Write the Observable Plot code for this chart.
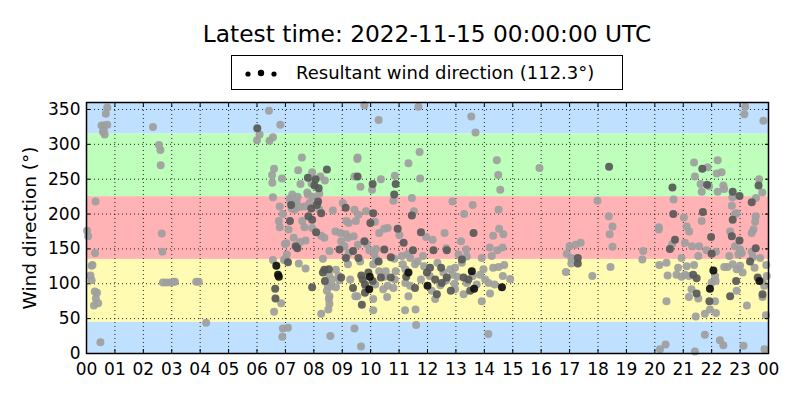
<!DOCTYPE html>
<html><head><meta charset="utf-8">
<script src="https://cdn.jsdelivr.net/npm/d3@7"></script>
<script src="https://cdn.jsdelivr.net/npm/@observablehq/plot@0.6"></script>
<style>
body{margin:0;background:#fff;font-family:"DejaVu Sans",sans-serif;}
#wrap{position:relative;width:800px;height:400px;overflow:hidden;}
#title{position:absolute;left:86px;width:682px;top:18px;text-align:center;font-size:23.3px;line-height:32px;color:#000;}
#legend{position:absolute;left:231px;top:55px;width:392px;height:35px;border:1px solid #000;box-sizing:border-box;display:flex;align-items:center;font-size:18px;color:#000;background:#fff;}
#legend svg{margin-left:4px;margin-right:6px;}
#chart{position:absolute;left:0;top:92px;}
</style></head>
<body>
<div id="wrap">
  <div id="title"></div>
  <div id="legend"></div>
  <div id="chart"></div>
</div>
<script>
const titleText = "Latest time: 2022-11-15 00:00:00 UTC";
const legendText = "Resultant wind direction (112.3°)";
const yLabel = "Wind direction (°)";

// hour of day (UTC), wind direction (deg), shade level (0 light, 1 dark, 2 black)
const hours = [
0.02,0.06,0.32,0.30,0.18,0.21,0.14,0.18,0.29,0.37,0.33,0.26,0.41,0.49,0.53,0.62,0.73,0.68,0.73,0.58,0.64,0.61,
2.34,2.55,2.60,2.61,2.65,2.67,2.69,2.81,2.95,3.06,3.11,3.86,3.95,4.21,
6.42,6.82,6.01,6.09,6.00,6.44,6.56,7.58,9.54,9.53,6.60,6.53,6.54,6.88,7.45,7.94,7.79,8.23,8.46,8.06,8.02,8.17,8.39,8.19,7.53,7.77,7.92,
9.43,9.54,9.64,10.07,10.05,10.36,10.85,10.88,10.83,10.80,
6.56,6.80,6.91,7.24,7.18,7.20,7.34,7.43,7.50,7.32,7.67,7.79,7.85,7.91,8.11,8.20,8.15,7.96,7.15,7.25,7.30,7.40,7.22,
6.77,6.80,7.16,7.11,7.59,7.67,7.94,7.81,7.94,8.26,8.08,8.26,8.37,7.29,7.03,7.36,7.42,7.52,7.71,6.98,7.05,6.99,
8.67,9.02,9.12,9.43,9.84,9.57,9.22,9.15,9.48,10.09,10.15,9.99,
8.55,8.76,8.94,9.13,9.40,8.96,8.90,9.08,9.20,9.23,9.38,9.55,9.78,9.86,9.95,10.19,10.48,10.30,10.48,10.60,10.95,11.01,
10.13,10.28,10.19,10.71,10.83,
6.68,6.74,6.77,6.56,6.95,7.09,7.47,7.71,6.64,6.65,6.85,6.60,7.94,
8.32,8.37,8.32,8.53,8.54,8.64,8.39,8.49,8.60,8.46,8.55,8.78,8.87,8.90,8.78,8.96,9.13,9.20,9.28,9.38,9.46,9.53,
9.57,9.63,9.67,9.72,9.80,9.84,9.80,9.95,9.97,9.92,10.09,10.07,10.16,10.09,10.09,9.69,8.53,8.55,8.26,8.51,
10.30,10.36,10.48,10.53,10.71,10.60,10.44,10.58,10.80,10.85,10.88,
6.91,7.09,6.89,8.58,9.43,9.66,9.78,10.28,
11.68,13.54,13.69,11.72,11.33,11.74,14.44,14.49,14.56,15.94,11.45,12.88,13.59,13.29,14.50,11.52,11.45,
11.77,11.95,12.18,12.60,13.62,13.18,14.52,14.31,14.67,14.46,14.64,14.19,
11.16,11.49,11.31,11.84,12.21,12.66,12.68,13.36,13.09,13.21,13.38,13.91,14.26,
11.13,11.39,11.22,11.33,11.56,11.65,11.88,11.98,12.09,12.08,12.27,12.48,12.56,12.68,12.80,12.89,12.97,13.21,
13.27,13.38,13.44,13.56,13.59,13.85,13.97,14.03,14.15,14.20,14.31,14.50,14.70,14.65,14.91,14.62,14.36,
11.22,11.39,11.56,11.77,12.00,12.15,12.33,12.45,12.50,12.66,12.82,12.97,13.27,13.50,13.64,13.73,13.91,
11.33,12.27,11.21,11.58,11.60,14.14,16.90,16.87,11.10,11.25,12.35,13.05,12.95,
17.00,17.21,17.39,17.06,17.29,17.06,17.29,17.80,18.39,17.98,18.38,18.51,18.41,18.51,18.44,19.59,19.56,
20.14,20.14,20.16,20.41,20.45,20.41,20.18,20.38,20.62,20.66,20.65,20.71,20.53,20.61,
21.02,21.12,21.21,21.06,21.31,20.94,20.82,21.12,21.06,20.76,20.94,21.20,21.35,21.47,21.38,21.53,21.56,
21.29,21.47,21.53,21.20,21.44,21.76,21.76,22.29,22.41,23.12,23.86,21.41,
21.38,21.41,21.67,21.86,22.21,22.18,22.35,21.61,21.65,21.84,21.91,22.21,22.41,22.44,22.74,22.73,22.98,
21.69,21.65,21.98,22.00,22.15,21.82,22.00,22.06,22.12,22.14,21.94,21.92,22.12,21.94,22.15,
22.71,22.82,22.74,22.88,22.65,22.71,22.82,22.98,23.00,22.94,22.62,22.44,22.56,22.74,22.88,23.00,23.09,
22.86,22.88,22.65,23.24,23.06,23.18,23.15,23.82,
23.67,23.65,23.78,23.56,23.41,23.55,23.53,23.47,23.41,23.55,23.41,23.45,23.71,23.35,23.51,23.62,23.68,
23.79,23.85,23.94,23.92,23.79,23.79,23.91
];
const directions = [
176,168,218,144,126,127,112,105,89,87,79,69,72,16,327,327,328,344,353,318,314,320,
325,299,292,270,172,146,102,102,102,103,103,103,103,44,
348,328,323,314,306,305,310,281,281,279,265,256,245,251,263,260,252,254,264,250,241,237,248,229,243,231,244,
254,254,239,243,235,250,255,243,228,219,
224,211,200,228,217,213,216,225,210,206,211,228,216,208,213,206,218,225,222,220,212,218,208,
190,181,190,178,190,181,180,197,192,201,174,169,166,166,158,154,151,160,162,157,142,136,
205,216,209,206,204,199,187,190,190,201,189,187,
147,175,173,171,168,161,149,154,166,144,147,156,161,157,148,150,149,173,179,180,179,170,
142,132,135,138,136,
126,113,110,134,134,131,129,122,93,79,72,60,95,
136,120,116,121,113,106,104,97,96,90,82,120,111,105,95,109,137,128,106,94,82,82,
137,132,112,106,99,94,87,92,110,116,128,104,99,78,62,70,78,71,57,63,
118,109,110,118,109,97,92,81,94,106,118,
36,37,24,25,36,10,356,335,
354,340,317,289,273,251,277,256,235,266,223,218,213,200,206,204,198,
174,167,163,173,173,161,179,169,171,148,152,152,
159,148,143,140,148,151,148,149,142,135,139,137,140,
128,137,121,116,128,132,125,116,123,111,106,123,116,109,121,113,123,130,
109,101,106,118,111,113,121,106,101,86,123,124,127,111,107,95,99,
101,97,94,106,97,90,85,98,101,105,90,92,85,90,93,99,75,
82,78,62,63,41,28,143,117,140,110,130,110,100,
154,156,159,137,137,129,129,111,268,219,197,182,171,153,124,147,135,
181,178,127,130,112,75,6,13,238,221,200,163,150,157,
195,182,175,159,154,137,123,125,113,113,110,111,113,108,127,140,154,
92,86,79,81,53,57,27,19,12,11,6,3,
274,254,265,267,277,258,260,243,232,242,240,232,241,236,232,224,226,
203,190,167,143,146,148,102,119,111,104,93,75,75,63,58,
212,200,192,201,175,168,154,162,149,142,140,124,124,128,121,126,116,
104,90,82,69,144,354,343,334,
250,241,231,223,217,197,189,178,173,151,146,138,137,132,123,109,104,
103,97,111,127,85,81,55
];
const shades = [
0,0,0,0,0,0,0,0,0,0,0,0,0,0,0,0,0,0,0,0,0,0,
0,0,0,0,0,0,0,0,0,0,0,0,0,0,
0,0,1,0,0,0,0,0,0,0,0,0,0,0,0,0,1,0,1,1,1,1,0,0,0,0,0,
0,1,0,1,0,0,0,1,1,0,
0,0,0,0,0,1,0,0,0,0,0,0,0,1,1,0,1,0,0,0,0,0,0,
0,0,1,0,0,0,0,1,1,1,1,0,0,0,0,1,1,0,0,0,0,0,
0,0,1,0,0,0,0,0,0,1,0,1,
0,0,0,0,0,0,1,0,0,0,1,0,1,0,0,0,1,0,0,0,1,0,
0,1,0,1,0,
2,2,2,0,0,1,0,0,1,1,0,0,1,
0,1,1,1,0,0,1,0,0,0,0,0,0,0,0,1,1,0,0,1,0,0,
1,0,1,1,1,0,1,2,2,1,0,1,0,0,0,1,0,0,0,0,
0,1,0,0,1,0,0,0,0,0,0,
0,0,0,0,0,0,0,0,
0,0,0,0,0,0,0,0,0,0,0,0,0,0,0,0,1,
1,0,0,0,1,0,0,0,0,0,0,0,
1,1,0,0,1,0,1,0,0,1,0,0,0,
0,0,0,2,0,0,0,1,1,0,1,1,0,1,0,0,0,0,
1,0,1,2,0,0,0,0,0,0,0,0,0,0,0,2,0,
0,0,1,0,2,0,1,0,1,0,1,0,0,1,2,0,0,
0,0,0,0,0,0,0,0,0,1,0,0,0,
0,0,0,0,1,0,1,0,1,0,0,0,0,0,0,0,0,
0,0,0,0,0,0,0,0,1,0,1,1,1,0,
0,0,0,0,0,0,0,0,0,0,0,0,1,1,0,0,0,
0,1,0,0,0,0,0,0,0,0,0,0,
0,0,1,0,0,0,0,0,0,1,0,0,0,0,1,0,1,
1,0,1,1,0,0,0,2,0,0,2,1,0,0,0,
0,0,1,0,0,1,0,1,0,0,0,0,0,0,0,0,0,
1,0,1,0,0,0,0,0,
0,1,0,0,1,0,0,0,0,1,0,0,0,1,0,1,2,
0,0,0,0,1,0,0
];

const bandLow = [0, 45, 135, 225, 315];
const bandHigh = [45, 135, 225, 315, 360];
const bandColors = ["#bfe0ff", "#fffbb3", "#ffb3b5", "#bdffbb", "#bfe0ff"];
const shadeColors = ["#9e9e9e", "#585858", "#0e0e0e"];

const hourTicks = d3.range(0, 25);
const dirTicks = d3.range(0, 351, 50);
const hourLabel = h => String(h % 24).padStart(2, "0");

document.getElementById("title").textContent = titleText;
document.getElementById("legend").innerHTML =
  '<svg width="54" height="20"><circle cx="12" cy="11" r="2.6" fill="#000"/><circle cx="25" cy="10" r="3.2" fill="#000"/><circle cx="38" cy="11" r="2.6" fill="#000"/></svg><span></span>';
document.querySelector("#legend span").textContent = legendText;

const bands = bandLow.map((lo, i) => ({lo, hi: bandHigh[i], color: bandColors[i]}));
const n = Math.min(hours.length, directions.length, shades.length);
const points = d3.range(n).map(i => ({hour: hours[i], dir: directions[i], shade: shades[i]}))
  .sort((a, b) => a.shade - b.shade);

const chart = Plot.plot({
  width: 800,
  height: 308,
  marginTop: 10,
  marginBottom: 47,
  marginLeft: 86,
  marginRight: 32,
  x: {domain: [0, 24]},
  y: {domain: [0, 360]},
  color: {type: "identity"},
  style: {fontFamily: "DejaVu Sans, sans-serif", fontSize: "17px", color: "#000", background: "transparent", overflow: "visible"},
  marks: [
    Plot.rect(bands, {y1: "lo", y2: "hi", fill: "color"}),
    Plot.ruleX(hourTicks, {stroke: "#000", strokeWidth: 1, strokeDasharray: "1,3", strokeOpacity: 0.85}),
    Plot.ruleY(dirTicks, {stroke: "#000", strokeWidth: 1, strokeDasharray: "1,3", strokeOpacity: 0.85}),
    Plot.dot(points, {x: "hour", y: "dir", r: 4, fill: d => shadeColors[d.shade], fillOpacity: 0.92, stroke: "none"}),
    Plot.axisX(hourTicks, {anchor: "bottom", tickSize: -4, tickPadding: 13, tickFormat: hourLabel, label: null, fontSize: 17}),
    Plot.axisX(hourTicks, {anchor: "top", tickSize: -4, tickFormat: () => "", label: null}),
    Plot.axisY(dirTicks, {anchor: "left", tickSize: -4, tickPadding: 10, label: null, fontSize: 17}),
    Plot.axisY(dirTicks, {anchor: "right", tickSize: -4, tickFormat: () => "", label: null}),
    Plot.text([yLabel], {frameAnchor: "left", rotate: -90, dx: -56, textAnchor: "middle", fontSize: 18.5, fill: "#000"}),
    Plot.frame({stroke: "#000", strokeWidth: 1.5})
  ]
});
document.getElementById("chart").appendChild(chart);
</script>
</body></html>
